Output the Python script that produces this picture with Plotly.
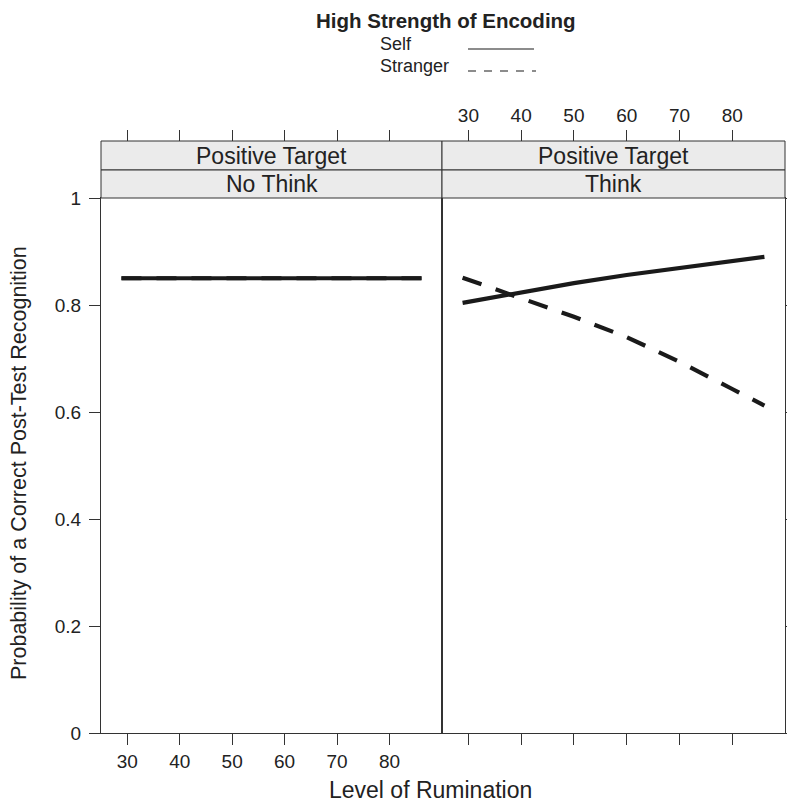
import plotly.graph_objects as go

# ---------------- data ----------------
rumination_ticks = [30, 40, 50, 60, 70, 80]
prob_ticks = [0, 0.2, 0.4, 0.6, 0.8, 1]
prob_ticklabels = ["0", "0.2", "0.4", "0.6", "0.8", "1"]

# Panel 1: Positive Target / No Think
nothink_x = [28.9, 86.1]
nothink_self = [0.850, 0.850]
nothink_stranger = [0.850, 0.850]

# Panel 2: Positive Target / Think
think_x = [28.9, 40, 50, 60, 70, 80, 86.1]
think_self = [0.804, 0.824, 0.841, 0.856, 0.869, 0.881, 0.890]
think_stranger = [0.851, 0.812, 0.778, 0.740, 0.694, 0.643, 0.612]

strip_top = ["Positive Target", "Positive Target"]
strip_bottom = ["No Think", "Think"]
legend_title = "High Strength of Encoding"
legend_labels = ["Self", "Stranger"]

# ---------------- layout helpers ----------------
W, H = 787, 805
def px(x):
    return x / W
def py(y):
    return 1 - y / H

FONT = "Liberation Sans, Arial, Helvetica, sans-serif"
INK = "#1a1a1a"
AX = "#333333"
TXT = "#222222"

x1dom = [px(101), px(442)]
x2dom = [px(442), px(785)]
ydom = [py(733), py(198)]
xr = [25, 90]

fig = go.Figure()
line_w = 4.2
dash = "20px,15px"
fig.add_trace(go.Scatter(x=nothink_x, y=nothink_stranger, mode="lines", xaxis="x", yaxis="y",
                         line=dict(color=INK, width=line_w, dash=dash), showlegend=False))
fig.add_trace(go.Scatter(x=nothink_x, y=nothink_self, mode="lines", xaxis="x", yaxis="y",
                         line=dict(color=INK, width=line_w), showlegend=False))
fig.add_trace(go.Scatter(x=think_x, y=think_self, mode="lines", xaxis="x2", yaxis="y2",
                         line=dict(color=INK, width=line_w), showlegend=False))
fig.add_trace(go.Scatter(x=think_x, y=think_stranger, mode="lines", xaxis="x2", yaxis="y2",
                         line=dict(color=INK, width=line_w, dash=dash), showlegend=False))
# invisible traces so the top (strip) tick axes get drawn
fig.add_trace(go.Scatter(x=nothink_x, y=nothink_self, mode="lines", xaxis="x3", yaxis="y",
                         line=dict(width=0), opacity=0, hoverinfo="skip", showlegend=False))
fig.add_trace(go.Scatter(x=think_x, y=think_self, mode="lines", xaxis="x4", yaxis="y2",
                         line=dict(width=0), opacity=0, hoverinfo="skip", showlegend=False))

tickfont = dict(family=FONT, size=19, color=TXT)
common_x = dict(range=xr, tickvals=rumination_ticks, ticks="outside", ticklen=11, tickwidth=1,
                tickcolor=AX, showgrid=False, zeroline=False, tickfont=tickfont, automargin=False,
                fixedrange=True)
common_y = dict(range=[0, 1], tickvals=prob_ticks, ticktext=prob_ticklabels, ticks="outside",
                ticklen=11, tickwidth=1, tickcolor=AX, showgrid=False, zeroline=False,
                tickfont=tickfont, domain=ydom, automargin=False, fixedrange=True)

fig.update_layout(
    width=W, height=H,
    margin=dict(l=0, r=0, t=0, b=0, autoexpand=False),
    paper_bgcolor="white", plot_bgcolor="white",
    showlegend=False,
    xaxis=dict(domain=x1dom, anchor="y", showline=True, linecolor=AX, linewidth=1, mirror=True,
               **common_x),
    xaxis2=dict(domain=x2dom, anchor="y2", showline=True, linecolor=AX, linewidth=1, mirror=True,
                showticklabels=False, **common_x),
    xaxis3=dict(overlaying="x", side="top", anchor="free", position=py(141), showline=False,
                showticklabels=False, **common_x),
    xaxis4=dict(overlaying="x2", side="top", anchor="free", position=py(141), showline=False,
                showticklabels=True, **common_x),
    yaxis=dict(anchor="x", showline=True, linecolor=AX, linewidth=1, mirror=True,
               ticklabelstandoff=4, **common_y),
    yaxis2=dict(anchor="x2", side="right", showline=True, linecolor=AX, linewidth=1, mirror=True,
                showticklabels=False, **common_y),
)

shapes = []
annotations = []
strip_font = dict(family=FONT, size=23, color=TXT)
for dom, top_txt, bot_txt in zip([x1dom, x2dom], strip_top, strip_bottom):
    shapes.append(dict(type="rect", xref="paper", yref="paper", x0=dom[0], x1=dom[1],
                       y0=py(170), y1=py(141), fillcolor="#ebebeb", line=dict(color=AX, width=1),
                       layer="above"))
    shapes.append(dict(type="rect", xref="paper", yref="paper", x0=dom[0], x1=dom[1],
                       y0=py(198), y1=py(170), fillcolor="#ebebeb", line=dict(color=AX, width=1),
                       layer="above"))
    cx = (dom[0] + dom[1]) / 2
    annotations.append(dict(text=top_txt, xref="paper", yref="paper", x=cx, y=py(156),
                            xanchor="center", yanchor="middle", showarrow=False, font=strip_font))
    annotations.append(dict(text=bot_txt, xref="paper", yref="paper", x=cx, y=py(184),
                            xanchor="center", yanchor="middle", showarrow=False, font=strip_font))

# axis titles
annotations.append(dict(text="Level of Rumination", xref="paper", yref="paper", x=px(430), y=py(790),
                        xanchor="center", yanchor="middle", showarrow=False,
                        font=dict(family=FONT, size=23, color=TXT)))
annotations.append(dict(text="Probability of a Correct Post-Test Recognition", xref="paper", yref="paper",
                        x=px(19), y=py(463), xanchor="center", yanchor="middle", textangle=-90,
                        showarrow=False, font=dict(family=FONT, size=21.5, color=TXT)))

# legend
annotations.append(dict(text="<b>" + legend_title + "</b>", xref="paper", yref="paper", x=px(446), y=py(20),
                        xanchor="center", yanchor="middle", showarrow=False,
                        font=dict(family=FONT, size=20.5, color=TXT)))
annotations.append(dict(text=legend_labels[0], xref="paper", yref="paper", x=px(378), y=py(44),
                        xanchor="left", yanchor="middle", showarrow=False,
                        font=dict(family=FONT, size=18, color=TXT)))
annotations.append(dict(text=legend_labels[1], xref="paper", yref="paper", x=px(378), y=py(66),
                        xanchor="left", yanchor="middle", showarrow=False,
                        font=dict(family=FONT, size=18, color=TXT)))
shapes.append(dict(type="line", xref="paper", yref="paper", x0=px(468), x1=px(534), y0=py(49), y1=py(49),
                   line=dict(color=INK, width=1.2)))
shapes.append(dict(type="line", xref="paper", yref="paper", x0=px(468), x1=px(536), y0=py(71), y1=py(71),
                   line=dict(color=INK, width=1.2, dash="8px,8px")))

fig.update_layout(shapes=shapes, annotations=annotations)
fig.write_html(
    "out.html",
    config={"displayModeBar": False, "staticPlot": True},
    post_script="document.body.style.margin='0';document.body.style.overflow='hidden';",
)
